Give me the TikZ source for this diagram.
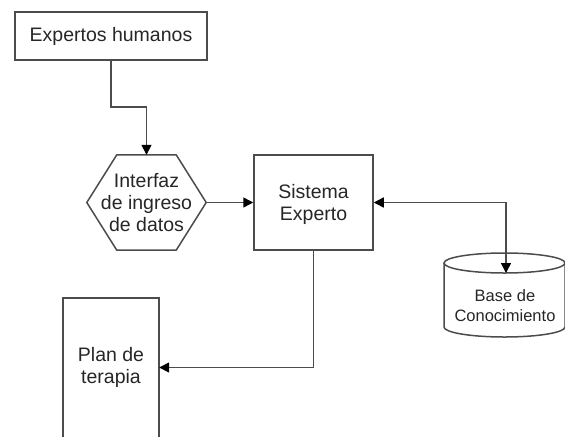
\documentclass[tikz,border=0pt]{standalone}
\usepackage{fontspec}
\setmainfont{Liberation Sans}
\usetikzlibrary{arrows.meta,calc}
\begin{document}
\begin{tikzpicture}[x=1pt,y=-1pt,
  line/.style={draw=black!70,line width=1.5pt},
  arr/.style={line,-{Triangle[length=10pt,width=10pt,fill=black,color=black]}},
  darr/.style={line,{Triangle[length=10pt,width=10pt,fill=black,color=black]}-{Triangle[length=10pt,width=10pt,fill=black,color=black]}},
  lbl/.style={font=\fontsize{19.5}{22}\selectfont,align=center,text=black!85,inner sep=0pt},
  small/.style={font=\fontsize{16.5}{20}\selectfont,align=center,text=black!85,inner sep=0pt}]
\useasboundingbox (0,0) rectangle (565,437);
% nodes
\node[lbl,line,minimum width=192pt,minimum height=48pt] (exp) at (111,36) {Expertos humanos};
\node[lbl,minimum width=119pt,minimum height=95pt] (hex) at (146.5,202.5) {Interfaz\\de ingreso\\de datos};
\draw[line] (hex.west) -- ($(hex.north west)+(30,0)$) -- ($(hex.north east)+(-30,0)$) -- (hex.east)
  -- ($(hex.south east)+(-30,0)$) -- ($(hex.south west)+(30,0)$) -- cycle;
\node[line,minimum width=119pt,minimum height=95pt] (sys) at (313.5,202.5) {};
\node[lbl] (systxt) at (313.5,204.5) {Sistema\\Experto};
% cylinder
\coordinate (cyltop) at (504.5,263);
\draw[line] (444,263) -- (444,327) arc[start angle=180,end angle=0,x radius=60.5,y radius=10]
  -- (565,263);
\draw[line] (cyltop) ellipse[x radius=60.5,y radius=10];
\node[small] (cyl) at (505,306) {Base de\\Conocimiento};
\coordinate (cylin) at (506,273);
% plan
\node[lbl,minimum width=96pt,minimum height=139pt] (plan) at (111,367.5) {Plan de\\terapia};
\draw[line] (plan.south west) -- (plan.north west) -- (plan.north east) -- (plan.south east);
% connectors
\draw[arr] (exp.south) -- ++(0,46) -| (hex.north);
\draw[arr] (hex.east) -- (sys.west);
\draw[darr] (sys.east) -| (cylin);
\draw[arr] (sys.south) |- (plan.east);
\end{tikzpicture}
\end{document}
